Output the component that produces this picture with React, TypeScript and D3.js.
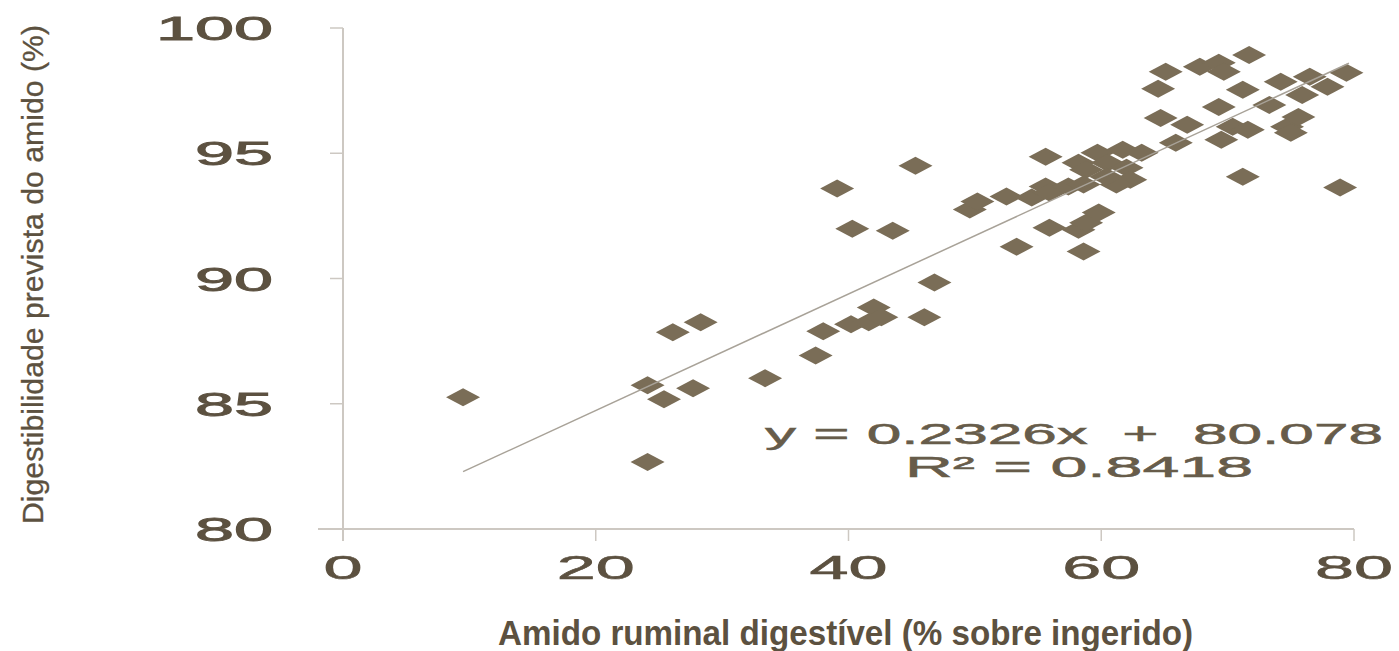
import React from "react";
import * as d3 from "d3";

const xValues: number[] = [
  9.5, 24.1, 24.1, 26.1, 25.4, 27.7, 28.3, 33.4, 37.4, 38.0,
  39.1, 40.3, 40.2, 41.6, 42.0, 42.6, 43.5, 45.3, 46.0, 46.8,
  49.6, 50.2, 52.5, 53.3, 54.5, 55.6, 55.6, 55.9, 55.9, 57.4,
  58.2, 58.6, 58.8, 58.2, 58.8, 59.7, 60.5, 59.8, 61.7, 62.0,
  63.2, 62.3, 61.2, 64.5, 64.7, 65.1, 65.9, 66.8, 67.8, 69.3,
  69.7, 69.3, 69.5, 70.4, 71.6, 71.2, 71.7, 71.2, 73.3, 74.2,
  74.7, 75.0, 75.6, 75.9, 76.5, 77.9, 79.4, 78.9, 58.6, 60.4,
];
const yValues: number[] = [
  85.26, 82.67, 85.74, 87.85, 85.18, 85.62, 88.25, 86.02, 86.93, 87.89,
  93.59, 91.99, 88.17, 88.25, 88.84, 88.45, 91.91, 94.5, 88.45, 89.84,
  92.75, 93.07, 93.27, 91.27, 93.23, 94.86, 93.67, 92.03, 93.43, 93.67,
  91.95, 91.08, 92.23, 94.62, 94.34, 95.02, 94.62, 92.63, 95.14, 94.42,
  95.02, 93.94, 93.75, 97.57, 96.41, 98.25, 95.42, 96.14, 98.45, 98.61,
  98.25, 96.85, 95.54, 96.06, 95.94, 97.53, 98.92, 94.06, 96.93, 97.85,
  96.06, 95.82, 96.45, 97.33, 98.05, 97.65, 98.21, 93.63, 93.75, 94.06,
];

const xTicks: number[] = [0, 20, 40, 60, 80];
const yTicks: number[] = [80, 85, 90, 95, 100];
const slope = 0.2326;
const intercept = 80.078;
const trendRange: number[] = [9.5, 79.6];
const equationText = "y = 0.2326x  +  80.078";
const r2Text = "R² = 0.8418";
const xTitle = "Amido ruminal digestível (% sobre ingerido)";
const yTitle = "Digestibilidade prevista do amido (%)";

const W = 1399;
const H = 651;
const axisColor = "#cdc8c2";
const textColor = "#5c5140";
const markColor = "#7a6d57";

export default function App() {
  const x = d3.scaleLinear().domain([0, 80]).range([343, 1354]);
  const y = d3.scaleLinear().domain([80, 100]).range([529, 28]);
  const points = xValues.map((v, i) => ({ x: v, y: yValues[i] }));
  const line = d3
    .line<number>()
    .x((d) => x(d))
    .y((d) => y(slope * d + intercept));
  const hw = 17;
  const hh = 9;
  const diamond = `M0,${-hh}L${hw},0L0,${hh}L${-hw},0Z`;
  const font = "'Liberation Sans', Arial, sans-serif";

  return (
    <svg
      width={W}
      height={H}
      style={{ position: "absolute", left: 0, top: 0, background: "#fff" }}
    >
      {/* axes */}
      <line x1={x(0)} x2={x(0)} y1={y(100)} y2={y(80) + 12} stroke={axisColor} strokeWidth={2} />
      <line x1={x(0) - 25} x2={x(80)} y1={y(80)} y2={y(80)} stroke={axisColor} strokeWidth={2} />
      {yTicks.map((t) => (
        <g key={"yt" + t}>
          <line x1={x(0) - 13} x2={x(0)} y1={y(t)} y2={y(t)} stroke={axisColor} strokeWidth={1.5} />
          <text
            x={273}
            y={y(t) + 12}
            textAnchor="end"
            fontFamily={font}
            fontSize={33}
            fill={textColor}
            stroke={textColor}
            strokeWidth={0.9}
            textLength={String(t).length * 39}
            lengthAdjust="spacingAndGlyphs"
          >
            {t}
          </text>
        </g>
      ))}
      {xTicks.map((t) => (
        <g key={"xt" + t}>
          <line x1={x(t)} x2={x(t)} y1={y(80)} y2={y(80) + 12} stroke={axisColor} strokeWidth={1.5} />
          <text
            x={x(t)}
            y={579}
            textAnchor="middle"
            fontFamily={font}
            fontSize={33}
            fill={textColor}
            stroke={textColor}
            strokeWidth={0.6}
            textLength={String(t).length * 39}
            lengthAdjust="spacingAndGlyphs"
          >
            {t}
          </text>
        </g>
      ))}

      {/* points */}
      {points.map((p, i) => (
        <path
          key={"p" + i}
          d={diamond}
          transform={`translate(${x(p.x)},${y(p.y)})`}
          fill={markColor}
        />
      ))}

      {/* trend line */}
      <path d={line(trendRange) || ""} fill="none" stroke="#a8a298" strokeWidth={1.5} />

      {/* equation */}
      <text
        x={765}
        y={444}
        fontFamily={font}
        fontSize={29}
        fill="#675c4a"
        stroke="#675c4a"
        strokeWidth={0.5}
        textLength={618}
        lengthAdjust="spacingAndGlyphs"
        style={{ whiteSpace: "pre" }}
      >
        {equationText}
      </text>
      <text
        x={905}
        y={477}
        fontFamily={font}
        fontSize={29}
        fill="#675c4a"
        stroke="#675c4a"
        strokeWidth={0.5}
        textLength={348}
        lengthAdjust="spacingAndGlyphs"
      >
        {r2Text}
      </text>

      {/* titles */}
      <text
        x={498}
        y={645}
        fontFamily={font}
        fontWeight="bold"
        fontSize={35}
        fill={textColor}
        textLength={695}
        lengthAdjust="spacingAndGlyphs"
      >
        {xTitle}
      </text>
      <text
        transform="translate(43,524) rotate(-90)"
        x={0}
        y={0}
        fontFamily={font}
        fontSize={29}
        fill={textColor}
        stroke={textColor}
        strokeWidth={0.3}
        textLength={499}
        lengthAdjust="spacingAndGlyphs"
      >
        {yTitle}
      </text>
    </svg>
  );
}
